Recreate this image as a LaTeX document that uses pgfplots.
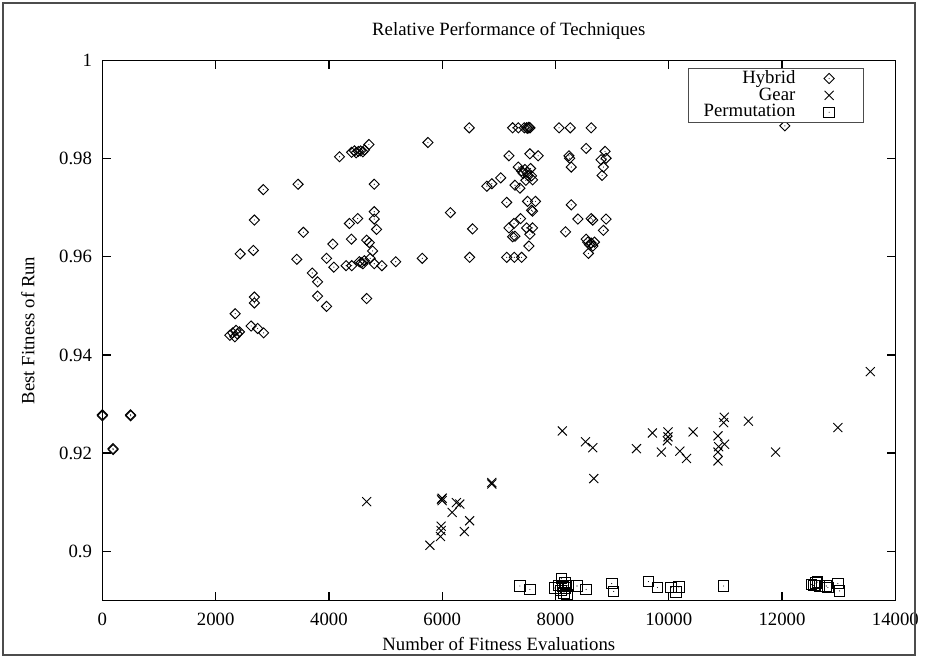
\documentclass[border=0pt]{standalone}
\usepackage{fontspec}
\setmainfont{Liberation Serif}
\usepackage{pgfplots}
\pgfplotsset{compat=1.18}
\pgfdeclareplotmark{gdiamond}{%
 \pgfpathmoveto{\pgfqpoint{0pt}{\pgfplotmarksize}}%
 \pgfpathlineto{\pgfqpoint{\pgfplotmarksize}{0pt}}%
 \pgfpathlineto{\pgfqpoint{0pt}{-\pgfplotmarksize}}%
 \pgfpathlineto{\pgfqpoint{-\pgfplotmarksize}{0pt}}%
 \pgfpathclose\pgfusepathqstroke
 \pgfpathcircle{\pgfpointorigin}{0.3pt}\pgfusepathqfill}
\pgfdeclareplotmark{gsquare}{%
 \pgfpathrectangle{\pgfqpoint{-\pgfplotmarksize}{-\pgfplotmarksize}}{\pgfqpoint{2\pgfplotmarksize}{2\pgfplotmarksize}}%
 \pgfusepathqstroke
 \pgfpathcircle{\pgfpointorigin}{0.3pt}\pgfusepathqfill}
\begin{document}
\begin{tikzpicture}
\begin{axis}[
 scale only axis, width=422.9pt, height=287.8pt,
 xmin=0, xmax=14000, ymin=0.89, ymax=1,
 xtick={0,2000,...,14000}, ytick={0.9,0.92,0.94,0.96,0.98,1},
 tick align=inside, xtick pos=both, ytick pos=both, major tick length=4.5pt,
 tick style={line width=0.7pt, black},
 scaled ticks=false,
 /pgf/number format/assume math mode=true,
 xticklabel style={/pgf/number format/1000 sep={}, yshift=-3.5pt},
 yticklabel style={/pgf/number format/fixed, /pgf/number format/precision=2, xshift=-2pt},
 font=\fontsize{10}{12}\selectfont,
 every axis title shift=0pt,
 title={Relative Performance of Techniques},
 title style={at={(rel axis cs:0.5125,1.0552)}, anchor=center},
 xlabel={Number of Fitness Evaluations},
 xlabel style={at={(rel axis cs:0.5,-0.082)}, anchor=center},
 ylabel={Best Fitness of Run},
 ylabel style={at={(rel axis cs:-0.094,0.5)}, anchor=center},
 clip=false,
 legend plot pos=right,
 legend cell align=right,
 legend image code/.code={\path[draw=none] (0pt,0pt) -- (28.5pt,0pt); \draw[#1] plot[only marks] coordinates {(18pt,0pt)};},
 legend style={at={(rel axis cs:0.961,0.987)}, anchor=north east, draw=gray!60!black, line width=0.6pt,
   inner xsep=8pt, inner ysep=1pt, row sep=0pt,
   nodes={inner sep=0pt, text height=7pt, text depth=2pt}},
]
\addplot[only marks, mark=gdiamond, mark size=2.7pt, line width=0.5pt] table {
x y
0 0.9278
0 0.9276
497 0.9278
500 0.9276
188 0.9209
190 0.9207
2250 0.9440
2300 0.9445
2340 0.9437
2380 0.9443
2420 0.9447
2360 0.9450
2626 0.9459
2742 0.9454
2847 0.9445
2345 0.9484
2684 0.9518
2684 0.9506
2433 0.9606
2666 0.9613
2684 0.9675
2841 0.9737
3455 0.9748
3549 0.9650
3433 0.9595
3706 0.9567
3800 0.9549
3800 0.9520
3958 0.9499
3958 0.9597
4069 0.9626
4087 0.9579
4187 0.9804
4303 0.9582
4403 0.9582
4362 0.9668
4508 0.9678
4397 0.9636
4400 0.9813
4450 0.9816
4480 0.9812
4520 0.9815
4560 0.9816
4600 0.9814
4630 0.9818
4706 0.9829
4537 0.9590
4570 0.9588
4600 0.9586
4625 0.9592
4666 0.9634
4713 0.9629
4771 0.9612
4729 0.9597
4800 0.9586
4935 0.9582
4666 0.9515
4800 0.9748
4800 0.9692
4800 0.9677
4841 0.9656
5180 0.9590
5648 0.9597
5748 0.9833
6145 0.9690
6478 0.9863
6484 0.9599
6536 0.9657
6788 0.9744
6876 0.9749
7033 0.9761
7139 0.9711
7139 0.9599
7273 0.9599
7402 0.9599
7179 0.9806
7179 0.9659
7267 0.9668
7384 0.9678
7244 0.9641
7285 0.9642
7244 0.9863
7344 0.9863
7450 0.9863
7490 0.9863
7510 0.9862
7530 0.9864
7550 0.9863
7285 0.9746
7372 0.9740
7343 0.9783
7400 0.9775
7430 0.9770
7460 0.9778
7500 0.9772
7520 0.9765
7560 0.9780
7577 0.9765
7477 0.9756
7595 0.9757
7490 0.9659
7595 0.9659
7548 0.9646
7507 0.9713
7647 0.9713
7577 0.9695
7595 0.9693
7531 0.9622
7548 0.9810
7694 0.9806
8063 0.9863
8261 0.9863
8630 0.9863
8542 0.9821
8238 0.9806
8250 0.9801
8279 0.9783
8875 0.9815
8805 0.9798
8893 0.9801
8846 0.9783
8823 0.9766
8279 0.9706
8396 0.9677
8630 0.9678
8658 0.9675
8893 0.9677
8178 0.9651
8846 0.9654
8542 0.9636
8570 0.9630
8600 0.9625
8630 0.9628
8660 0.9622
8688 0.9630
8582 0.9607
12050 0.9867
};
\addlegendentry{Hybrid}
\addplot[only marks, mark=x, mark size=3.4pt, line width=0.5pt] table {
x y
4666 0.9101
5783 0.9012
5981 0.9051
5981 0.9042
5970 0.9030
5987 0.9106
5999 0.9103
6000 0.9108
6175 0.9079
6250 0.9099
6310 0.9096
6391 0.9040
6484 0.9062
6876 0.9140
6876 0.9137
8121 0.9245
8530 0.9223
8658 0.9211
8676 0.9148
9430 0.9209
9711 0.9241
9870 0.9202
9986 0.9243
9986 0.9233
9975 0.9225
10196 0.9204
10313 0.9189
10430 0.9243
10869 0.9235
10880 0.9213
10985 0.9218
10869 0.9202
10869 0.9184
10980 0.9273
10968 0.9262
11406 0.9265
11887 0.9202
12986 0.9252
13559 0.9366
};
\addlegendentry{Gear}
\addplot[only marks, mark=gsquare, mark size=2.8pt, line width=0.5pt] table {
x y
7372 0.8929
7548 0.8922
8103 0.8944
7990 0.8925
8050 0.8930
8100 0.8920
8130 0.8928
8150 0.8915
8180 0.8925
8200 0.8912
8220 0.8930
8170 0.8935
8379 0.8929
8542 0.8922
8993 0.8934
9028 0.8918
9641 0.8938
9799 0.8926
10043 0.8926
10131 0.8917
10178 0.8927
10968 0.8929
12517 0.8932
12622 0.8937
12663 0.8929
12780 0.8929
12810 0.8926
12985 0.8934
13015 0.8919
12560 0.8930
12600 0.8935
};
\addlegendentry{Permutation}
\pgfplotsinvokeforeach{2000,4000,6000,8000,10000,12000}{
  \draw[black, line width=0.7pt] (axis cs:#1,0.89) -- ++(0pt,4.5pt);
  \draw[black, line width=0.7pt] (axis cs:#1,1) -- ++(0pt,-4.5pt);
}
\pgfplotsinvokeforeach{0.9,0.92,0.94,0.96,0.98}{
  \draw[black, line width=0.7pt] (axis cs:0,#1) -- ++(4.5pt,0pt);
  \draw[black, line width=0.7pt] (axis cs:14000,#1) -- ++(-4.5pt,0pt);
}
\path (rel axis cs:-0.1291,-0.1068) rectangle (rel axis cs:1.0301,1.1123);
\draw[gray!60!black, line width=0.8pt] (rel axis cs:-0.1253,-0.1013) rectangle (rel axis cs:1.0251,1.1068);
\end{axis}
\end{tikzpicture}
\end{document}
